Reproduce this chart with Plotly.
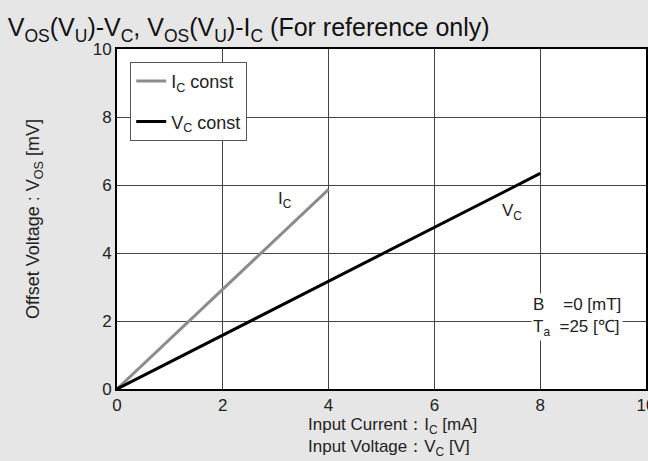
import plotly.graph_objects as go

ic_x = [0, 4]        # input current Ic [mA]
ic_vos = [0, 5.87]   # offset voltage [mV]
vc_x = [0, 8]        # input voltage Vc [V]
vc_vos = [0, 6.34]   # offset voltage [mV]
ticks = [0, 2, 4, 6, 8, 10]

font = "Liberation Sans, Arial, sans-serif"

fig = go.Figure()
fig.add_trace(go.Scatter(x=ic_x, y=ic_vos, mode="lines", name="I<sub>C</sub> const",
                         line=dict(color="#8c8c8c", width=3), legendgroup="a"))
fig.add_trace(go.Scatter(x=vc_x, y=vc_vos, mode="lines", name="V<sub>C</sub> const",
                         line=dict(color="black", width=3), legendgroup="b"))

# curve labels
fig.add_annotation(x=3.18, y=5.56, text="I<sub>C</sub>", showarrow=False,
                   font=dict(size=17, color="#222"))
fig.add_annotation(x=7.46, y=5.2, text="V<sub>C</sub>", showarrow=False,
                   font=dict(size=17, color="#222"))
# conditions
fig.add_annotation(x=7.82, y=2.12, xanchor="left", yanchor="middle", align="left",
                   text="B    =0 [mT]<br>T<sub>a</sub>  =25 [℃]", showarrow=False,
                   bgcolor="white", font=dict(size=17, color="#222"))
# x axis title (two lines)
fig.add_annotation(xref="paper", yref="paper", x=0.52, y=-0.072, yanchor="top",
                   text="Input Current：I<sub>C</sub> [mA]<br>Input Voltage：V<sub>C</sub> [V]",
                   showarrow=False, align="left", font=dict(size=17, color="#222"))

fig.update_layout(
    width=648, height=461,
    margin=dict(l=117, r=2, t=49, b=72, autoexpand=False),
    paper_bgcolor="#e6e6e6", plot_bgcolor="white",
    font=dict(family=font, size=14, color="#222"),
    title=dict(text="V<sub>OS</sub>(V<sub>U</sub>)-V<sub>C</sub>, V<sub>OS</sub>(V<sub>U</sub>)-I<sub>C</sub> (For reference only)",
               x=0.012, xanchor="left", y=0.94, yanchor="middle",
               font=dict(size=25, color="#111", family=font)),
    legend=dict(x=0.025, y=0.962, xanchor="left", yanchor="top",
                bgcolor="white", bordercolor="#555", borderwidth=1,
                font=dict(size=18, color="#222"), tracegroupgap=14,
                traceorder="grouped", entrywidth=128, entrywidthmode="pixels"),
    showlegend=True,
)
fig.update_xaxes(range=[0, 10], tickvals=ticks, showgrid=True, gridcolor="#444", gridwidth=1,
                 showline=True, linecolor="black", linewidth=2, mirror=True, automargin=False,
                 zeroline=False, ticks="", tickfont=dict(size=17), ticklabeloverflow="allow")
fig.update_yaxes(range=[0, 10], tickvals=ticks, showgrid=True, gridcolor="#444", gridwidth=1,
                 showline=True, linecolor="black", linewidth=2, mirror=True, automargin=False,
                 zeroline=False, ticks="", tickfont=dict(size=17),
                 title=dict(text="Offset Voltage : V<sub>OS</sub> [mV]", standoff=48,
                            font=dict(size=18, color="#222")))

fig.write_html("out.html", config={"displayModeBar": False},
               post_script="document.body.style.margin='0';")
